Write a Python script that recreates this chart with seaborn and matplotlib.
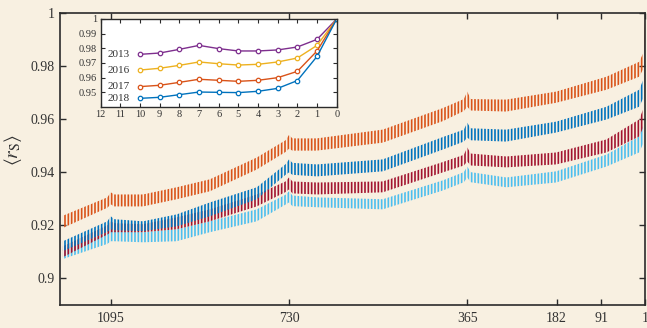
import numpy as np
import pandas as pd
import seaborn as sns
import matplotlib.pyplot as plt
from matplotlib.ticker import FuncFormatter

# main panel: envelope of the weekly ripple (days before end)
days = [1193, 1102, 1095, 1088, 1029, 960, 892, 796, 737, 730, 723, 673, 538,
        415, 372, 365, 358, 285, 183, 80, 13, 4, 1]

orange_hi = [0.9236, 0.9305, 0.9324, 0.9316, 0.9316, 0.9343, 0.9373, 0.9455, 0.9520, 0.9540, 0.9527, 0.9527, 0.9560,
             0.9641, 0.9675, 0.9703, 0.9675, 0.9673, 0.9703, 0.9759, 0.9815, 0.9850, 0.9980]
orange_lo = [0.9190, 0.9266, 0.9279, 0.9271, 0.9271, 0.9298, 0.9328, 0.9410, 0.9476, 0.9488, 0.9481, 0.9481, 0.9511,
             0.9592, 0.9630, 0.9646, 0.9632, 0.9628, 0.9661, 0.9710, 0.9759, 0.9790, 0.9930]

blue_hi = [0.9140, 0.9215, 0.9234, 0.9223, 0.9215, 0.9241, 0.9286, 0.9343, 0.9430, 0.9448, 0.9435, 0.9429, 0.9448,
           0.9532, 0.9560, 0.9586, 0.9565, 0.9560, 0.9590, 0.9646, 0.9710, 0.9750, 0.9950]
blue_lo = [0.9103, 0.9175, 0.9185, 0.9181, 0.9178, 0.9196, 0.9234, 0.9298, 0.9390, 0.9399, 0.9390, 0.9384, 0.9403,
           0.9485, 0.9515, 0.9530, 0.9520, 0.9515, 0.9549, 0.9598, 0.9646, 0.9680, 0.9900]

red_hi = [0.9121, 0.9200, 0.9215, 0.9208, 0.9204, 0.9230, 0.9260, 0.9316, 0.9365, 0.9380, 0.9365, 0.9361, 0.9365,
          0.9438, 0.9465, 0.9493, 0.9470, 0.9459, 0.9474, 0.9523, 0.9598, 0.9640, 0.9920]
red_lo = [0.9080, 0.9165, 0.9174, 0.9174, 0.9174, 0.9185, 0.9215, 0.9271, 0.9325, 0.9335, 0.9320, 0.9316, 0.9324,
          0.9399, 0.9425, 0.9440, 0.9425, 0.9418, 0.9429, 0.9474, 0.9534, 0.9570, 0.9860]

lblue_hi = [0.9110, 0.9170, 0.9185, 0.9178, 0.9174, 0.9185, 0.9215, 0.9260, 0.9315, 0.9328, 0.9312, 0.9305, 0.9298,
            0.9369, 0.9400, 0.9421, 0.9400, 0.9380, 0.9403, 0.9466, 0.9534, 0.9580, 0.9880]
lblue_lo = [0.9073, 0.9130, 0.9140, 0.9140, 0.9136, 0.9140, 0.9174, 0.9215, 0.9278, 0.9286, 0.9272, 0.9268, 0.9260,
            0.9331, 0.9362, 0.9380, 0.9362, 0.9343, 0.9361, 0.9421, 0.9474, 0.9510, 0.9800]

main_xticks = [1095, 730, 365, 182, 91, 1]

# inset: months before
months = [10, 9, 8, 7, 6, 5, 4, 3, 2, 1, 0]
r2013 = [0.9759, 0.9768, 0.9793, 0.9820, 0.9798, 0.9782, 0.9782, 0.9789, 0.9809, 0.9861, 1.0]
r2016 = [0.9652, 0.9664, 0.9684, 0.9707, 0.9695, 0.9686, 0.9691, 0.9707, 0.9734, 0.9820, 1.0]
r2017 = [0.9539, 0.9548, 0.9568, 0.9589, 0.9582, 0.9575, 0.9582, 0.9600, 0.9643, 0.9782, 1.0]
r2018 = [0.9459, 0.9466, 0.9484, 0.9502, 0.9500, 0.9498, 0.9507, 0.9527, 0.9580, 0.9745, 1.0]
years = ["2013", "2016", "2017", "2018"]

sns.set_style("ticks")
plt.rcParams['font.family'] = ['Liberation Serif', 'DejaVu Serif']
plt.rcParams['mathtext.fontset'] = 'stix'
plt.rcParams['hatch.linewidth'] = 1.2

bg = '#f8f0e1'
ink = '#2b2b2b'

fig = plt.figure(figsize=(6.47, 3.28), dpi=100)
fig.patch.set_facecolor(bg)
ax = fig.add_axes([0.0927, 0.0701, 0.9042, 0.8912])
ax.set_facecolor(bg)

bands = [(orange_lo, orange_hi, '#D95319'),
         (blue_lo, blue_hi, '#0072BD'),
         (red_lo, red_hi, '#A2142F'),
         (lblue_lo, lblue_hi, '#4DBEEE')]
for lo, hi, c in bands[::-1]:
    ax.fill_between(days, lo, hi, facecolor='none', edgecolor=c, hatch='|||||', linewidth=0)

ax.set_xlim(1199, 1)
ax.set_ylim(0.89, 1.0)
ax.set_xticks(main_xticks)
ax.set_xticklabels([str(t) for t in main_xticks])
ax.set_yticks([0.9, 0.92, 0.94, 0.96, 0.98, 1.0])
ax.yaxis.set_major_formatter(FuncFormatter(lambda v, p: f'{v:g}'))
ax.tick_params(direction='in', top=True, right=True, length=4, width=1, color=ink,
               labelsize=10, labelcolor='#333333')
ax.tick_params(axis='x', pad=5)
ax.tick_params(axis='y', pad=4)
for s in ax.spines.values():
    s.set_color(ink)
    s.set_linewidth(1.2)
ax.set_ylabel(r'$\langle r_\mathrm{S} \rangle$', fontsize=14, color='#333333')
ax.yaxis.set_label_coords(-0.062, 0.53)

# inset
axin = fig.add_axes([0.1556, 0.6738, 0.3648, 0.2683])
axin.set_facecolor('white')
inset = pd.DataFrame({'month': months * 4,
                      'r': r2013 + r2016 + r2017 + r2018,
                      'year': [y for y in years for _ in months]})
pal = {'2013': '#7E2F8E', '2016': '#EDB120', '2017': '#D95319', '2018': '#0072BD'}
for y in years:
    d = inset[inset['year'] == y]
    sns.lineplot(data=d, x='month', y='r', color=pal[y], linewidth=1, marker='o',
                 markersize=3.2, markerfacecolor='white', markeredgecolor=pal[y],
                 markeredgewidth=0.9, ax=axin)
    axin.text(11.1, d['r'].iloc[0], y, ha='center', va='center', fontsize=8, color='#333333')
axin.set_xlim(12, 0)
axin.set_ylim(0.94, 1.0)
axin.set_xticks(range(0, 13))
axin.set_yticks([0.95, 0.96, 0.97, 0.98, 0.99, 1.0])
axin.yaxis.set_major_formatter(FuncFormatter(lambda v, p: f'{v:g}'))
axin.set_xlabel('')
axin.set_ylabel('')
axin.tick_params(direction='in', top=True, right=True, length=3, width=0.8, color=ink,
                 labelsize=7.5, labelcolor='#333333', pad=2.5)
for s in axin.spines.values():
    s.set_color(ink)
    s.set_linewidth(1)

fig.savefig('out.png', dpi=100, facecolor=bg)
